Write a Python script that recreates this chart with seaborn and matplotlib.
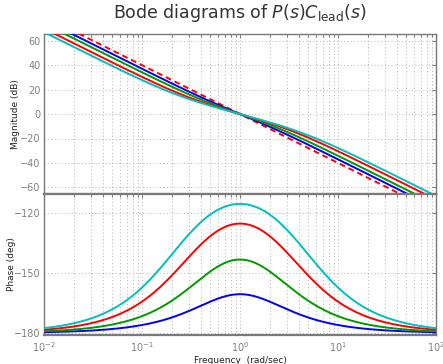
import numpy as np
import pandas as pd
import matplotlib
matplotlib.use("Agg")
import matplotlib.pyplot as plt
import seaborn as sns
from matplotlib.ticker import LogLocator, FixedLocator, NullFormatter

# ---- data ----
# Lead compensator ratios a = p/z (pole/zero), centred at w = 1 rad/s,
# gain-normalised so |C(j1)| = 1.  Plant P(s) = 1/s^2.
lead_ratios = [2, 4, 10, 20]
line_colors = ["#0000ff", "#009900", "#ff0000", "#00bfbf"]
freq_min_exp, freq_max_exp = -2, 2
mag_ticks = [-60, -40, -20, 0, 20, 40, 60]
phase_ticks = [-180, -150, -120]
title_text = r"Bode diagrams of $P(s)C_{\mathrm{lead}}(s)$"

w = np.logspace(freq_min_exp, freq_max_exp, 600)
s = 1j * w

rows = []
plant = 1.0 / s**2
for a in lead_ratios:
    z = 1.0 / np.sqrt(a)
    p = np.sqrt(a)
    C = (1.0 / np.sqrt(a)) * (s / z + 1) / (s / p + 1)
    L = plant * C
    mag = 20 * np.log10(np.abs(L))
    ph = np.degrees(np.angle(C)) - 180.0
    rows.append(pd.DataFrame({"w": w, "mag": mag, "phase": ph, "a": str(a)}))
df = pd.concat(rows, ignore_index=True)
plant_df = pd.DataFrame({"w": w, "mag": 20 * np.log10(np.abs(plant))})

# ---- figure ----
sns.set_style("white")
plt.rcParams["font.family"] = ["DejaVu Sans"]
plt.rcParams["mathtext.fontset"] = "dejavusans"

fig = plt.figure(figsize=(4.43, 3.64), dpi=100)
W, H = 443, 364
left, right = 44 / W, 436 / W
ax1 = fig.add_axes([left, 1 - 193.5 / H, right - left, (193.5 - 34) / H])
ax2 = fig.add_axes([left, 1 - 335 / H, right - left, (335 - 193.5) / H])

spine_col = "#7a7a7a"
tick_col = "#808080"
grid_kw = dict(color="#b4b4b4", linestyle=(0, (1, 2.5)), linewidth=0.7)

pal = dict(zip([str(a) for a in lead_ratios], line_colors))

sns.lineplot(data=plant_df, x="w", y="mag", ax=ax1, color="#ff0000",
             linewidth=1.4, zorder=3, legend=False)
ax1.lines[-1].set_dashes([3, 2])
sns.lineplot(data=df, x="w", y="mag", hue="a", palette=pal, ax=ax1,
             linewidth=1.4, legend=False, zorder=4, sort=False, estimator=None)
sns.lineplot(data=df, x="w", y="phase", hue="a", palette=pal, ax=ax2,
             linewidth=1.4, legend=False, zorder=4, sort=False, estimator=None)

for ax in (ax1, ax2):
    ax.set_xscale("log")
    ax.set_xlim(10.0**freq_min_exp, 10.0**freq_max_exp)
    ax.xaxis.set_major_locator(LogLocator(base=10, numticks=10))
    ax.xaxis.set_minor_locator(LogLocator(base=10, subs=np.arange(2, 10), numticks=20))
    ax.xaxis.set_minor_formatter(NullFormatter())
    ax.grid(True, which="major", **grid_kw)
    ax.grid(True, which="minor", axis="x", **grid_kw)
    ax.tick_params(which="both", direction="in", colors=tick_col, labelcolor=tick_col,
                   labelsize=7, top=True, right=True, length=3, width=0.8)
    ax.tick_params(axis="y", pad=2.5)
    ax.tick_params(which="minor", length=2)
    for sp in ax.spines.values():
        sp.set_color(spine_col)
        sp.set_linewidth(1.0)
        sp.set_visible(True)
    ax.set_axisbelow(True)

ax1.set_ylim(-65, 65.5)
ax1.yaxis.set_major_locator(FixedLocator(mag_ticks))
ax1.tick_params(axis="x", labelbottom=False)
ax1.spines["bottom"].set_linewidth(1.6)
ax1.set_xlabel("")
ax1.set_ylabel("Magnitude (dB)", fontsize=6.5, color="#222222")
ax1.yaxis.set_label_coords((19.5 - 44) / 392, 0.5)

ax2.set_ylim(-181, -110)
ax2.yaxis.set_major_locator(FixedLocator(phase_ticks))
ax2.spines["top"].set_linewidth(1.6)
ax2.spines["bottom"].set_linewidth(1.6)
ax2.set_xlabel("Frequency  (rad/sec)", fontsize=6.5, color="#222222", labelpad=2)
ax2.set_ylabel("Phase (deg)", fontsize=6.5, color="#222222")
ax2.yaxis.set_label_coords((16.5 - 44) / 392, 0.5)

fig.text((44 + 436) / 2 / W, 1 - 13 / H, title_text, ha="center", va="center",
         fontsize=12.5, color="#333333")

fig.savefig("out.png", dpi=100)
